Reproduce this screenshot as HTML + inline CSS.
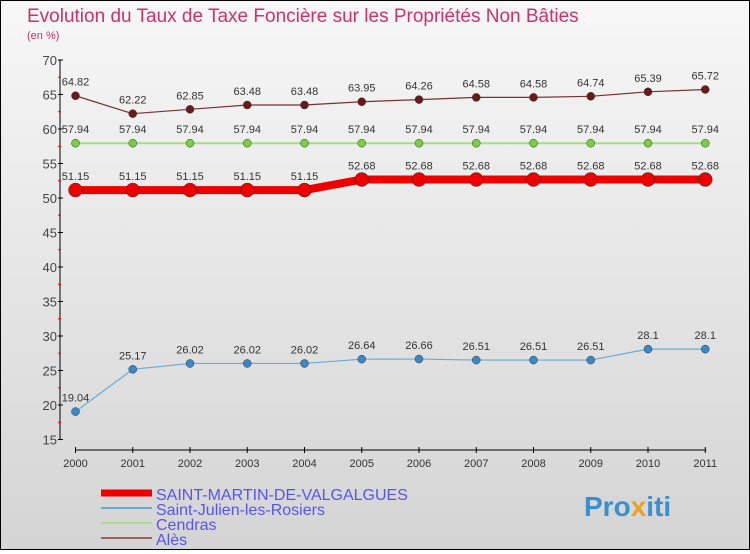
<!DOCTYPE html>
<html><head><meta charset="utf-8"><style>
html,body{margin:0;padding:0}
body{width:750px;height:550px;overflow:hidden;font-family:"Liberation Sans",sans-serif}
#frame{position:absolute;left:0;top:0;width:748px;height:548px;border:1px solid #000;background:linear-gradient(#f7f7f7,#d4d4d4)}
</style></head><body>
<div id="frame">
<svg id="chart" width="748" height="548" xmlns="http://www.w3.org/2000/svg">
<text x="26" y="21" font-size="19" fill="#d0306a">Evolution du Taux de Taxe Foncière sur les Propriétés Non Bâties</text>
<text x="26" y="38" font-size="11" fill="#d0306a">(en %)</text>
<g id="axes"></g><g id="series"></g>
<g id="legend"></g>
<text x="583" y="515" font-size="28" font-weight="bold" fill="#3a8fd0">Pro<tspan fill="#f0a020">x</tspan>iti</text>
</svg></div>
<script>
const years=[2000,2001,2002,2003,2004,2005,2006,2007,2008,2009,2010,2011];
const yTicks=[15,20,25,30,35,40,45,50,55,60,65,70];
const stMartin=[51.15,51.15,51.15,51.15,51.15,52.68,52.68,52.68,52.68,52.68,52.68,52.68];
const stJulien=[19.04,25.17,26.02,26.02,26.02,26.64,26.66,26.51,26.51,26.51,28.1,28.1];
const cendras=[57.94,57.94,57.94,57.94,57.94,57.94,57.94,57.94,57.94,57.94,57.94,57.94];
const ales=[64.82,62.22,62.85,63.48,63.48,63.95,64.26,64.58,64.58,64.74,65.39,65.72];
const names=["SAINT-MARTIN-DE-VALGALGUES","Saint-Julien-les-Rosiers","Cendras","Alès"];
const NS="http://www.w3.org/2000/svg";
const xs=i=>74.5+i*57.25;
const ys=v=>59+(70-v)*6.9;
function mk(tag,attrs,parent){const e=document.createElementNS(NS,tag);for(const k in attrs)e.setAttribute(k,attrs[k]);parent.appendChild(e);return e;}
const ax=document.getElementById('axes');
let l=mk('line',{x1:59,y1:ys(70),x2:59,y2:ys(15),stroke:'#000'},ax);


l=mk('line',{x1:74,y1:449,x2:xs(11)+1,y2:449,stroke:'#000'},ax);


yTicks.forEach(v=>{
 mk('line',{x1:57,x2:62,y1:ys(v),y2:ys(v),stroke:'#000'},ax);
 if(v<70) mk('line',{x1:57,x2:60,y1:ys(v+2.5),y2:ys(v+2.5),stroke:'#e00'},ax);
 const t=mk('text',{x:56,y:ys(v)+5,'text-anchor':'end','font-size':13,fill:'#444'},ax);
 t.textContent=v;
 
 
});
years.forEach((y,i)=>{
 mk('line',{x1:xs(i),x2:xs(i),y1:446,y2:452,stroke:'#000'},ax);
 const t=mk('text',{x:xs(i),y:466,'text-anchor':'middle','font-size':11,fill:'#333'},ax);
 t.textContent=y;
 
 
});
const sg=document.getElementById('series');
function draw(data,color,lw,r,dot,name){
 const g=mk('g',{},sg);
 
 
 mk('polyline',{points:data.map((v,i)=>xs(i)+','+ys(v)).join(' '),fill:'none',stroke:color,'stroke-width':lw},g);
 data.forEach((v,i)=>{
  const c=mk('circle',{cx:xs(i),cy:ys(v),r:r,fill:dot,stroke:'#333','stroke-width':0.5},g);
  
  
  const t=mk('text',{x:xs(i),y:ys(v)-10,'text-anchor':'middle','font-size':11,fill:'#333'},g);
  t.textContent=String(v);
  
  
 });
}
draw(ales,'#7a3030',1.2,4,'#6a1a1a','series-ales');
draw(cendras,'#a8dc88',2,4,'#78d040','series-cendras');
draw(stMartin,'#ee0000',8,7,'#ee0000','series-saint-martin');
draw(stJulien,'#6aaad8',1.2,4,'#3a88c8','series-saint-julien');
const lg=document.getElementById('legend');
const lc=['#ee0000','#6aaad8','#a8dc88','#a06060'],lwd=[7,2,2,2];
names.forEach((n,i)=>{
 const y=492+i*15;
 const ln=mk('line',{x1:100,x2:151,y1:y,y2:y,stroke:lc[i],'stroke-width':lwd[i]},lg);
 
 
 const t=mk('text',{x:155,y:y+7,'font-size':16,fill:'#5555ee'},lg);
 t.textContent=n;
 
 
});
</script>
</body></html>
